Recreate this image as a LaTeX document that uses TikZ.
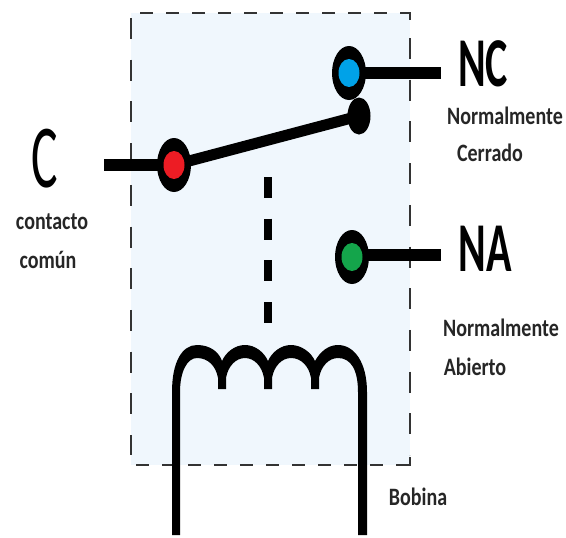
\documentclass[tikz,border=0pt]{standalone}
\usepackage{fontspec}
\setmainfont{Carlito}
\usetikzlibrary{positioning,shapes.geometric}
\definecolor{myback}{RGB}{240,247,253}
\definecolor{myred}{RGB}{237,28,36}
\definecolor{myblue}{RGB}{0,162,232}
\definecolor{mygreen}{RGB}{20,165,75}

\begin{document}
\begin{tikzpicture}[x=1pt,y=-1pt,
  termnode/.style={ellipse,fill=black,inner sep=0pt,minimum width=34pt,minimum height=54pt},
  corenode/.style={ellipse,inner sep=0pt,minimum width=21pt,minimum height=28pt},
  bignode/.style={font=\fontsize{70}{70}\selectfont\bfseries,inner sep=0pt,xscale=.6,transform shape},
  smallnode/.style={font=\fontsize{25}{25}\selectfont\bfseries,inner sep=0pt,text=black!85,xscale=.8,transform shape},
  wire/.style={line width=12pt},
  border/.style={line width=2.6pt,black!80}
]
\useasboundingbox (0,0) rectangle (566,538);

% the relay frame
\fill[myback] (131,13) rectangle (410,465);
\draw[border,dash pattern=on 13pt off 13pt] (140,13) -- (403,13);
\draw[border,dash pattern=on 13pt off 13pt] (136,465) -- (403,465);
\draw[border,dash pattern=on 21pt off 20.7pt] (131,18) -- (131,455);
\draw[border,dash pattern=on 21pt off 20.7pt] (410,38) -- (410,455);
\draw[border] (402,13) -- (410,13) -- (410,20);
\draw[border] (402,465) -- (410,465) -- (410,457);

% the terminals
\node[termnode] (c) at (174,165) {};
\node[termnode] (nc) at (349,73) {};
\node[termnode] (na) at (352,257) {};
\node[ellipse,fill=black,inner sep=0pt,minimum width=23pt,minimum height=37pt] (arm) at (359,116) {};

% the free ends
\coordinate (cend) at (104,165);
\coordinate (ncend) at (441,73);
\coordinate (naend) at (441,255);
\coordinate (coretop) at (268,177);
\coordinate (corebot) at (268,323);

% the wires
\draw[wire] (cend) -- (c.center);
\draw[wire] (nc.center) -- (ncend);
\draw[wire] (na.center |- naend) -- (naend);
\draw[line width=11pt] (c.center) -- (arm.center);
\draw[line width=8pt,dash pattern=on 21pt off 20.7pt] (coretop) -- (corebot);

% the colours on top
\node[corenode,fill=myred] (cin) at (c) {};
\node[corenode,fill=myblue] (ncin) at (nc) {};
\node[corenode,fill=mygreen] (nain) at (na) {};

% the coil
\fill (172,535) -- (172,392)
  .. controls (172,362) and (182,345) .. (197,345)
  .. controls (210,345) and (219,352) .. (222,361)
  .. controls (226,352) and (235,345) .. (245,345)
  .. controls (255,345) and (264,352) .. (268,361)
  .. controls (272,352) and (281,345) .. (291,345)
  .. controls (301,345) and (311,352) .. (315,361)
  .. controls (320,352) and (328,345) .. (338,345)
  .. controls (354,345) and (367,362) .. (367,392)
  -- (367,535) -- (358,535) -- (358,392)
  .. controls (358,370) and (351,358) .. (338,358)
  .. controls (329,358) and (321,366) .. (319,378)
  -- (319,389) -- (311,389) -- (311,378)
  .. controls (309,366) and (301,358) .. (291,358)
  .. controls (282,358) and (274,366) .. (272,378)
  -- (272,389) -- (264,389) -- (264,378)
  .. controls (262,366) and (254,358) .. (245,358)
  .. controls (236,358) and (228,366) .. (226,378)
  -- (226,389) -- (218,389) -- (218,378)
  .. controls (216,366) and (208,358) .. (197,358)
  .. controls (187,358) and (180,372) .. (180,392)
  -- (180,535) -- cycle;

% the labels
\node[bignode,font=\fontsize{90}{90}\selectfont,xscale=.92] (lc) at (45,159) {C};
\node[bignode] (lnc) at (483,64) {NC};
\node[bignode] (lna) at (485,249) {NA};
\node[smallnode] (lnc1) at (505,116) {Normalmente};
\node[smallnode] (lnc2) at (490,153) {Cerrado};
\node[smallnode] (lna1) at (501,328) {Normalmente};
\node[smallnode] (lna2) at (475,367) {Abierto};
\node[smallnode] (lcoil) at (418,497) {Bobina};
\node[smallnode] (lc1) at (52,222) {contacto};
\node[smallnode] (lc2) at (48,260) {común};
\end{tikzpicture}
\end{document}
